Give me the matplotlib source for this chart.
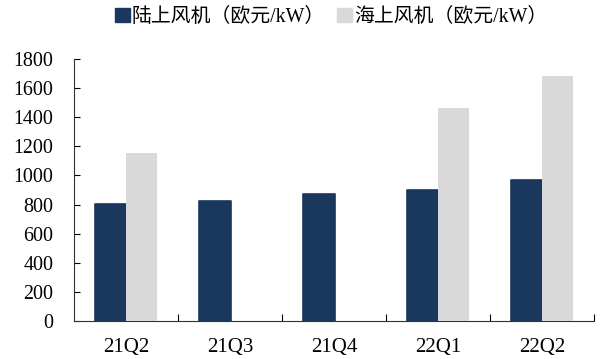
import numpy as np
import matplotlib
matplotlib.use("Agg")
import matplotlib.pyplot as plt
from matplotlib.patches import Patch

plt.rcParams['font.family'] = ['Liberation Serif', 'Noto Sans CJK SC', 'DejaVu Sans']

quarters = ["21Q2", "21Q3", "21Q4", "22Q1", "22Q2"]
onshore = [805, 822, 872, 902, 972]
offshore = [1155, np.nan, np.nan, 1465, 1682]
yticks = [0, 200, 400, 600, 800, 1000, 1200, 1400, 1600, 1800]

dark = "#1a385d"
light = "#d9d9d9"

fig = plt.figure(figsize=(6.04, 3.59), dpi=100)
ax = fig.add_axes([74 / 604, 1 - 321 / 359, 520 / 604, 262 / 359])

x = np.arange(len(quarters))
ax.bar(x - 0.145, onshore, width=0.31, color=dark, edgecolor=dark,
       linewidth=1.2, joinstyle="round", zorder=2)
ax.bar(x + 0.148, offshore, width=0.305, color=light, linewidth=0, zorder=3)

ax.set_xlim(-0.5, len(quarters) - 0.5)
ax.set_ylim(0, 1800)
ax.set_yticks(yticks)
ax.set_yticklabels([str(v) for v in yticks], fontsize=14.4)
ax.set_xticks(x)
ax.set_xticklabels(quarters, fontsize=15)
ax.set_xticks(np.arange(len(quarters)) + 0.5, minor=True)

ax.tick_params(axis="y", direction="in", length=4, width=0.8, pad=15)
ax.tick_params(axis="x", which="major", length=0, pad=12)
ax.tick_params(axis="x", which="minor", direction="in", length=5, width=0.8)

for side in ("top", "right"):
    ax.spines[side].set_visible(False)
for side in ("left", "bottom"):
    ax.spines[side].set_linewidth(0.8)
    ax.spines[side].set_color("#333333")

handles = [Patch(facecolor=dark, edgecolor=dark, label="陆上风机（欧元/kW）"),
           Patch(facecolor=light, edgecolor=light, label="海上风机（欧元/kW）")]
fig.legend(handles=handles, loc="center", bbox_to_anchor=(0.548, 1 - 17 / 359),
           ncol=2, frameon=False, fontsize=14.3, handlelength=0.75, handleheight=0.7,
           handletextpad=0.1, columnspacing=0.6)

fig.savefig("out.png", dpi=100)
